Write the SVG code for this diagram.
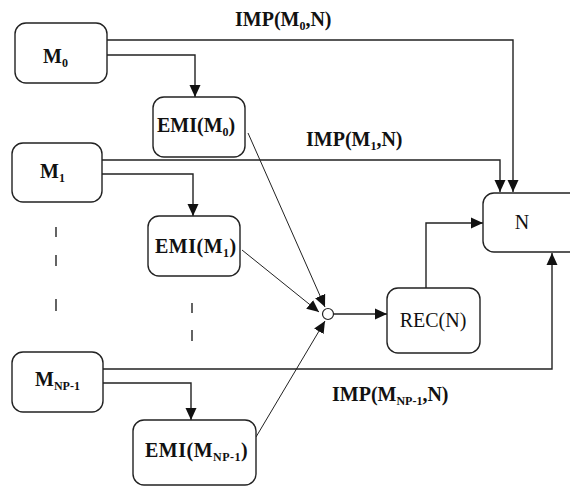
<svg xmlns="http://www.w3.org/2000/svg" width="570" height="487" viewBox="0 0 570 487">
<style>
.box{fill:#fff;stroke:#222;stroke-width:1.4}
.ln{fill:none;stroke:#222;stroke-width:1.4}
.thin{fill:none;stroke:#222;stroke-width:1}
.t{font-family:"Liberation Serif","Times New Roman",serif;font-weight:bold;font-size:20px;fill:#111}
.r{font-family:"Liberation Serif","Times New Roman",serif;font-size:20px;fill:#111}
.s{font-size:12px}
</style>
<defs>
<marker id="ah" markerUnits="userSpaceOnUse" markerWidth="12" markerHeight="12" refX="12" refY="6" orient="auto" viewBox="0 0 12 12">
<path d="M0,0.5 L12,6 L0,11.5 z" fill="#111"/>
</marker>
</defs>
<rect width="570" height="487" fill="#fff"/>
<g id="connectors">
<polyline class="ln" points="107,40 513,40 513,192" marker-end="url(#ah)"/>
<polyline class="ln" points="107,55 195,55 195,97" marker-end="url(#ah)"/>
<polyline class="ln" points="102,160 500,160 500,192" marker-end="url(#ah)"/>
<polyline class="ln" points="102,174 193,174 193,216" marker-end="url(#ah)"/>
<polyline class="ln" points="103,369 552,369 552,253" marker-end="url(#ah)"/>
<polyline class="ln" points="103,383 191,383 191,420" marker-end="url(#ah)"/>
<line class="thin" x1="248" y1="133" x2="325" y2="307" marker-end="url(#ah)"/>
<line class="thin" x1="242" y1="250" x2="319" y2="312" marker-end="url(#ah)"/>
<line class="thin" x1="256" y1="437" x2="325" y2="321" marker-end="url(#ah)"/>
<line class="ln" x1="334" y1="314" x2="387" y2="314" marker-end="url(#ah)"/>
<polyline class="ln" points="426,288 426,223 483,223" marker-end="url(#ah)"/>
</g>
<g id="ellipsis" stroke="#222" stroke-width="1.4">
<line x1="56" y1="227" x2="56" y2="237"/>
<line x1="56" y1="255" x2="56" y2="266"/>
<line x1="56" y1="299" x2="56" y2="311"/>
<line x1="192" y1="303" x2="192" y2="313"/>
<line x1="192" y1="330" x2="192" y2="341"/>
</g>
<g id="M0"><rect class="box" x="15" y="23" width="92" height="60" rx="11"/>
<text class="t" x="43" y="63">M<tspan class="s" dy="4">0</tspan></text></g>
<g id="EMI0"><rect class="box" x="153" y="97" width="92" height="60" rx="11"/>
<text class="t" x="157" y="132">EMI(M<tspan class="s" dy="4">0</tspan><tspan dy="-4">)</tspan></text></g>
<g id="M1"><rect class="box" x="12" y="143" width="90" height="59" rx="11"/>
<text class="t" x="40" y="178">M<tspan class="s" dy="4">1</tspan></text></g>
<g id="EMI1"><rect class="box" x="148" y="216" width="92" height="60" rx="11"/>
<text class="t" x="155" y="253" letter-spacing="0.5">EMI(M<tspan class="s" dy="4">1</tspan><tspan dy="-4">)</tspan></text></g>
<g id="MNP"><rect class="box" x="12" y="352" width="91" height="60" rx="11"/>
<text class="t" x="35" y="386">M<tspan class="s" dy="4">NP-1</tspan></text></g>
<g id="EMINP"><rect class="box" x="133" y="420" width="123" height="65" rx="11"/>
<text class="t" x="145" y="457" letter-spacing="0.5">EMI(M<tspan class="s" dy="4">NP-1</tspan><tspan dy="-4">)</tspan></text></g>
<g id="join"><circle cx="328" cy="314" r="5.5" fill="#fff" stroke="#222" stroke-width="1.2"/></g>
<g id="REC"><rect class="box" x="387" y="288" width="93" height="65" rx="11"/>
<text class="r" x="433" y="327" text-anchor="middle">REC(N)</text></g>
<g id="N"><rect class="box" x="483" y="193" width="100" height="59" rx="11"/>
<text class="r" x="522" y="229" text-anchor="middle">N</text></g>
<g id="labels">
<text class="t" x="235" y="26">IMP(M<tspan class="s" dy="4">0</tspan><tspan dy="-4">,N)</tspan></text>
<text class="t" x="306" y="146">IMP(M<tspan class="s" dy="4">1</tspan><tspan dy="-4">,N)</tspan></text>
<text class="t" x="332" y="401">IMP(M<tspan class="s" dy="4">NP-1</tspan><tspan dy="-4">,N)</tspan></text>
</g>
</svg>
